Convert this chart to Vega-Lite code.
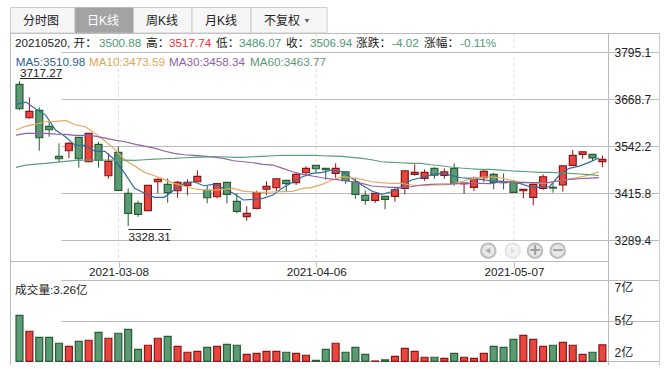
{"$schema":"https://vega.github.io/schema/vega-lite/v6.json","width":649,"height":332,"autosize":{"type":"none","contains":"content"},"padding":{"left":10,"top":33,"right":6,"bottom":4},"background":"white",
"config":{"view":{"stroke":null},"axis":{"disable":true},"legend":{"disable":true},"font":"Liberation Sans, Noto Sans CJK SC","text":{"font":"Liberation Sans, Noto Sans CJK SC","fontSize":11.7,"align":"left","baseline":"middle","color":"#222222"}},
"resolve":{"scale":{"x":"independent","y":"independent","color":"independent","stroke":"independent"},"axis":{"x":"independent","y":"independent"}},
"data":{"values":[
{"d":"2021-02-22","o":3708.9,"h":3717.27,"l":3640,"c":3643.3,"dir":"down","v":5.15,"m5":3655.1,"m10":3586,"m30":3572.6,"m60":3485.8},
{"d":"2021-02-23","o":3619.1,"h":3674,"l":3616.4,"c":3636.3,"dir":"up","v":4.13,"m5":3661.3,"m10":3596.8,"m30":3577.1,"m60":3491.9},
{"d":"2021-02-24","o":3639,"h":3647,"l":3530.4,"c":3565.3,"dir":"down","v":3.74,"m5":3642.5,"m10":3602.1,"m30":3577.1,"m60":3494.6},
{"d":"2021-02-25","o":3596,"h":3608.3,"l":3568,"c":3586.8,"dir":"down","v":3.74,"m5":3626.3,"m10":3608.3,"m30":3577.1,"m60":3496.5},
{"d":"2021-02-26","o":3515.3,"h":3550.3,"l":3499.2,"c":3508.9,"dir":"down","v":3.36,"m5":3586,"m10":3609.4,"m30":3575.2,"m60":3499.2},
{"d":"2021-03-01","o":3530.4,"h":3553.8,"l":3510.7,"c":3550.3,"dir":"up","v":3.16,"m5":3568,"m10":3612.1,"m30":3574.5,"m60":3501.9},
{"d":"2021-03-02","o":3566.4,"h":3567.2,"l":3484.7,"c":3508.9,"dir":"down","v":3.48,"m5":3544.9,"m10":3600.3,"m30":3571.8,"m60":3504.6},
{"d":"2021-03-03","o":3500.8,"h":3578,"l":3499.2,"c":3577.1,"dir":"up","v":3.55,"m5":3544.9,"m10":3594.9,"m30":3571.8,"m60":3505.4},
{"d":"2021-03-04","o":3547.6,"h":3554.6,"l":3484.7,"c":3504.6,"dir":"down","v":4.06,"m5":3528.8,"m10":3577.1,"m30":3569.9,"m60":3505.4},
{"d":"2021-03-05","o":3463.2,"h":3523.4,"l":3455.1,"c":3501.9,"dir":"up","v":3.68,"m5":3528.8,"m10":3556.4,"m30":3564.5,"m60":3505.4},
{"d":"2021-03-08","o":3526.1,"h":3541.1,"l":3423,"c":3423.9,"dir":"down","v":4,"m5":3505.4,"m10":3534.1,"m30":3559.1,"m60":3505.4},
{"d":"2021-03-09","o":3415.8,"h":3429.3,"l":3328.31,"c":3362.1,"dir":"down","v":4.25,"m5":3469.6,"m10":3505.4,"m30":3554.6,"m60":3505.4},
{"d":"2021-03-10","o":3389,"h":3396,"l":3353,"c":3359.4,"dir":"down","v":2.97,"m5":3429.3,"m10":3489.2,"m30":3548.4,"m60":3504.6},
{"d":"2021-03-11","o":3369.1,"h":3437.4,"l":3369.1,"c":3437,"dir":"up","v":3.23,"m5":3415.9,"m10":3472.3,"m30":3543,"m60":3506.2},
{"d":"2021-03-12","o":3447,"h":3456.2,"l":3415.8,"c":3453.5,"dir":"up","v":3.68,"m5":3405.1,"m10":3463.2,"m30":3537.6,"m60":3508.1},
{"d":"2021-03-15","o":3440,"h":3456.2,"l":3390.6,"c":3417.5,"dir":"down","v":3.8,"m5":3405.1,"m10":3453.5,"m30":3529.6,"m60":3508.9},
{"d":"2021-03-16","o":3422.8,"h":3449,"l":3404,"c":3445.4,"dir":"up","v":3.16,"m5":3424.7,"m10":3442.7,"m30":3523.4,"m60":3509.9},
{"d":"2021-03-17","o":3437.4,"h":3453.5,"l":3410.5,"c":3445.4,"dir":"up","v":2.78,"m5":3442.7,"m10":3435.5,"m30":3519.6,"m60":3511.6},
{"d":"2021-03-18","o":3447,"h":3477.7,"l":3447,"c":3461.6,"dir":"up","v":2.84,"m5":3447,"m10":3428.2,"m30":3518,"m60":3512.6},
{"d":"2021-03-19","o":3423.9,"h":3437.4,"l":3389,"c":3404,"dir":"down","v":3.1,"m5":3436.3,"m10":3424.7,"m30":3516.1,"m60":3513.4},
{"d":"2021-03-22","o":3406.7,"h":3442.7,"l":3402.4,"c":3441.7,"dir":"up","v":3.16,"m5":3440.1,"m10":3424.7,"m30":3513.4,"m60":3514.2},
{"d":"2021-03-23","o":3445.4,"h":3445.4,"l":3389,"c":3413.2,"dir":"down","v":3.29,"m5":3429.3,"m10":3426.6,"m30":3509.9,"m60":3514.2},
{"d":"2021-03-24","o":3394.4,"h":3415.8,"l":3362.1,"c":3367.5,"dir":"down","v":3.23,"m5":3415.9,"m10":3429.3,"m30":3503.5,"m60":3512.6},
{"d":"2021-03-25","o":3353,"h":3380.9,"l":3342.2,"c":3362.1,"dir":"up","v":2.65,"m5":3397.9,"m10":3422,"m30":3500.8,"m60":3512.6},
{"d":"2021-03-26","o":3375.5,"h":3422.8,"l":3372.8,"c":3417.5,"dir":"up","v":2.71,"m5":3399.7,"m10":3419.4,"m30":3498.1,"m60":3514.2},
{"d":"2021-03-29","o":3427.4,"h":3448.1,"l":3411.3,"c":3434.7,"dir":"up","v":2.84,"m5":3402.4,"m10":3418.6,"m30":3493.8,"m60":3515.3},
{"d":"2021-03-30","o":3430.9,"h":3455.1,"l":3422,"c":3455.1,"dir":"up","v":2.84,"m5":3411.3,"m10":3419.4,"m30":3491.9,"m60":3516.9},
{"d":"2021-03-31","o":3450.8,"h":3450.8,"l":3421.2,"c":3441.7,"dir":"down","v":2.78,"m5":3430.9,"m10":3420.2,"m30":3483.1,"m60":3518},
{"d":"2021-04-01","o":3444.4,"h":3469.6,"l":3438.2,"c":3466.9,"dir":"up","v":2.71,"m5":3445.4,"m10":3421.2,"m30":3473.9,"m60":3518},
{"d":"2021-04-02","o":3471.2,"h":3488.4,"l":3463.2,"c":3483,"dir":"up","v":2.59,"m5":3460.5,"m10":3429.3,"m30":3466.9,"m60":3518},
{"d":"2021-04-06","o":3491.1,"h":3491.1,"l":3471.2,"c":3482,"dir":"down","v":2.26,"m5":3469.6,"m10":3432,"m30":3462.4,"m60":3518},
{"d":"2021-04-07","o":3483,"h":3483,"l":3452.4,"c":3479.3,"dir":"down","v":2.97,"m5":3472.3,"m10":3440.1,"m30":3457.8,"m60":3516.9},
{"d":"2021-04-08","o":3469.6,"h":3496.5,"l":3457.8,"c":3483,"dir":"up","v":3.36,"m5":3478.5,"m10":3451.6,"m30":3454.3,"m60":3516.1},
{"d":"2021-04-09","o":3473.9,"h":3473.9,"l":3441.7,"c":3449.7,"dir":"down","v":2.78,"m5":3473.9,"m10":3460.5,"m30":3451.6,"m60":3515.3},
{"d":"2021-04-12","o":3446.2,"h":3457.8,"l":3401.3,"c":3413.2,"dir":"down","v":3.1,"m5":3456.2,"m10":3457.8,"m30":3447,"m60":3512.6},
{"d":"2021-04-13","o":3410.5,"h":3423.9,"l":3385.2,"c":3397,"dir":"down","v":2.65,"m5":3438.2,"m10":3453.5,"m30":3442.7,"m60":3509.9},
{"d":"2021-04-14","o":3397,"h":3415.8,"l":3389.8,"c":3415.8,"dir":"up","v":2.22,"m5":3422,"m10":3447,"m30":3435.5,"m60":3506.2},
{"d":"2021-04-15","o":3407.8,"h":3409.4,"l":3372.8,"c":3399.7,"dir":"down","v":2.29,"m5":3413.2,"m10":3444.4,"m30":3433.6,"m60":3500.8},
{"d":"2021-04-16","o":3407.8,"h":3432.8,"l":3393.3,"c":3425.5,"dir":"up","v":2.52,"m5":3420.2,"m10":3442.7,"m30":3432,"m60":3499.2},
{"d":"2021-04-19","o":3429.3,"h":3476.6,"l":3413.2,"c":3476.6,"dir":"up","v":3.03,"m5":3433.6,"m10":3442.7,"m30":3432,"m60":3498.1},
{"d":"2021-04-20","o":3466.9,"h":3493.8,"l":3463.2,"c":3472.3,"dir":"up","v":2.84,"m5":3451.6,"m10":3438.2,"m30":3433.6,"m60":3496.5},
{"d":"2021-04-21","o":3456.2,"h":3480.4,"l":3449.7,"c":3472.3,"dir":"up","v":2.46,"m5":3457.8,"m10":3436.3,"m30":3438.2,"m60":3496.5},
{"d":"2021-04-22","o":3483,"h":3485.8,"l":3455.1,"c":3465,"dir":"down","v":2.46,"m5":3465.1,"m10":3438.2,"m30":3440.1,"m60":3492.7},
{"d":"2021-04-23","o":3464.2,"h":3483,"l":3455.1,"c":3473.9,"dir":"up","v":2.39,"m5":3469.6,"m10":3438.2,"m30":3440.9,"m60":3490.1},
{"d":"2021-04-26","o":3483,"h":3496.5,"l":3436.3,"c":3442.7,"dir":"down","v":2.71,"m5":3464.2,"m10":3440.1,"m30":3440.9,"m60":3486.6},
{"d":"2021-04-27","o":3441.7,"h":3443.5,"l":3414.8,"c":3443.5,"dir":"up","v":2.46,"m5":3457.8,"m10":3447,"m30":3441.7,"m60":3483.9},
{"d":"2021-04-28","o":3432,"h":3460.5,"l":3422,"c":3456.2,"dir":"up","v":2.39,"m5":3456.2,"m10":3454.3,"m30":3442.7,"m60":3482},
{"d":"2021-04-29","o":3457.8,"h":3478.5,"l":3447,"c":3475,"dir":"up","v":2.71,"m5":3453.5,"m10":3458.9,"m30":3442.7,"m60":3480.4},
{"d":"2021-04-30","o":3466.9,"h":3471.2,"l":3426.6,"c":3445.4,"dir":"down","v":3.16,"m5":3449.7,"m10":3460.5,"m30":3441.7,"m60":3480.4},
{"d":"2021-05-06","o":3447,"h":3469.6,"l":3426.6,"c":3444.4,"dir":"down","v":3.1,"m5":3448.9,"m10":3457.8,"m30":3446.2,"m60":3478.5},
{"d":"2021-05-07","o":3446.2,"h":3451.6,"l":3418.5,"c":3418.5,"dir":"down","v":3.61,"m5":3446.2,"m10":3451.6,"m30":3445.4,"m60":3476.6},
{"d":"2021-05-10","o":3422.8,"h":3426.6,"l":3402.4,"c":3426.6,"dir":"up","v":3.87,"m5":3442.7,"m10":3447,"m30":3444.4,"m60":3475},
{"d":"2021-05-11","o":3405,"h":3442.7,"l":3383.6,"c":3440,"dir":"up","v":3.61,"m5":3433.6,"m10":3444.4,"m30":3444.4,"m60":3473.9},
{"d":"2021-05-12","o":3429.3,"h":3466.9,"l":3424.7,"c":3460.5,"dir":"up","v":3.16,"m5":3432,"m10":3442.7,"m30":3444.4,"m60":3472.3},
{"d":"2021-05-13","o":3432,"h":3444.4,"l":3417.5,"c":3430.1,"dir":"down","v":3.23,"m5":3433.6,"m10":3444.4,"m30":3445.4,"m60":3472.3},
{"d":"2021-05-14","o":3438.2,"h":3490,"l":3420.2,"c":3490,"dir":"up","v":3.42,"m5":3465.1,"m10":3449.7,"m30":3449.7,"m60":3471.2},
{"d":"2021-05-17","o":3491.1,"h":3532.3,"l":3491.1,"c":3518,"dir":"up","v":3.23,"m5":3483.1,"m10":3454.3,"m30":3453.5,"m60":3469.6},
{"d":"2021-05-18","o":3520.7,"h":3527.7,"l":3508.9,"c":3527.7,"dir":"up","v":2.65,"m5":3489.2,"m10":3458.9,"m30":3455.1,"m60":3467.8},
{"d":"2021-05-19","o":3520.7,"h":3520.7,"l":3502.7,"c":3510.96,"dir":"down","v":2.78,"m5":3499.2,"m10":3465.1,"m30":3457,"m60":3465.9},
{"d":"2021-05-20","o":3500.88,"h":3517.74,"l":3486.07,"c":3506.94,"dir":"up","v":3.26,"m5":3510.98,"m10":3473.59,"m30":3458.34,"m60":3463.77}
]},
"layer":[
{"transform":[{"filter":{"field":"d","oneOf":["2021-03-08","2021-04-06","2021-05-07"]}}],"mark":{"type":"rule","color":"#dddddd","strokeDash":[3,3],"strokeWidth":1},"encoding":{"x":{"field":"d","type":"ordinal","title":null,"scale":{"type":"point","domain":["2021-03-08","2021-04-06","2021-05-07"],"range":[108.5,504],"padding":0},"axis":{"disable":false,"offset":-103,"grid":false,"domain":false,"ticks":true,"tickColor":"#bbbbbb","tickSize":5,"labelAngle":0,"labelPadding":-1,"labelColor":"#222222","labelFontSize":11.7,"labelFont":"Liberation Sans","labelOverlap":false,"title":null}},"y":{"datum":3847,"scale":{"domain":[3231.2,3847],"range":[229,0],"zero":false,"nice":false}},"y2":{"datum":3231.2}}},
{"mark":{"type":"rule","strokeWidth":1},"encoding":{"x":{"field":"d","type":"ordinal","title":null,"scale":{"type":"band","range":[0,598],"paddingInner":0.3,"paddingOuter":0.415,"align":0.737}},"y":{"field":"l","type":"quantitative","title":null,"scale":{"domain":[3231.2,3847],"range":[229,0],"zero":false,"nice":false},"axis":{"disable":false,"values":[3795.1,3668.7,3542.2,3415.8,3289.4],"orient":"right","offset":-51,"format":".1f","grid":true,"gridColor":"#bbbbbb","gridWidth":1,"domain":false,"tickColor":"#bbbbbb","tickSize":3,"labelColor":"#222222","labelFontSize":12,"labelFont":"Liberation Sans","labelPadding":3,"labelOverlap":false,"title":null}},"y2":{"field":"h"},"stroke":{"field":"dir","type":"nominal","scale":{"domain":["up","down"],"range":["#8a1519","#255c32"]}}}},
{"encoding":{"x":{"field":"d","type":"ordinal","title":null,"scale":{"type":"band","range":[0,598],"paddingInner":0.3,"paddingOuter":0.415,"align":0.737}}},
"layer":[
{"mark":{"type":"bar","strokeWidth":1.2},"encoding":{"y":{"field":"o","type":"quantitative","scale":{"domain":[3231.2,3847],"range":[229,0],"zero":false,"nice":false}},"y2":{"field":"c"},"fill":{"field":"dir","type":"nominal","scale":{"domain":["up","down"],"range":["#e8463c","#5b9a72"]}},"stroke":{"field":"dir","type":"nominal","scale":{"domain":["up","down"],"range":["#8a1519","#255c32"]}}}},
{"mark":{"type":"line","color":"#2f6ca3","strokeWidth":1.2},"encoding":{"x":{"field":"d","type":"ordinal","bandPosition":0},"y":{"field":"m5","type":"quantitative"}}},
{"mark":{"type":"line","color":"#e3a95c","strokeWidth":1.2},"encoding":{"x":{"field":"d","type":"ordinal","bandPosition":0},"y":{"field":"m10","type":"quantitative"}}},
{"mark":{"type":"line","color":"#9160a8","strokeWidth":1.2},"encoding":{"x":{"field":"d","type":"ordinal","bandPosition":0},"y":{"field":"m30","type":"quantitative"}}},
{"mark":{"type":"line","color":"#5d9e7c","strokeWidth":1.2},"encoding":{"x":{"field":"d","type":"ordinal","bandPosition":0},"y":{"field":"m60","type":"quantitative"}}}
]},
{"mark":{"type":"bar","strokeWidth":1.2},"encoding":{"x":{"field":"d","type":"ordinal","title":null,"scale":{"type":"band","range":[0,598],"paddingInner":0.3,"paddingOuter":0.415,"align":0.737}},"y":{"field":"v","type":"quantitative","title":null,"scale":{"domain":[2.2,7.4],"range":[328.3,247.3],"zero":false,"nice":false},"axis":{"disable":false,"values":[2.2,4.8,7.4],"orient":"right","offset":-51,"labelExpr":"round(datum.value)+'亿'","grid":true,"gridColor":"#bbbbbb","gridWidth":1,"domain":false,"tickColor":"#bbbbbb","tickSize":3,"labelColor":"#222222","labelFontSize":12,"labelFont":"Liberation Sans, Noto Sans CJK SC","labelPadding":3,"labelFlush":true,"labelFlushOffset":-2,"labelOverlap":false,"title":null}},"y2":{"datum":2.2},"fill":{"field":"dir","type":"nominal","scale":{"domain":["up","down"],"range":["#e8463c","#5b9a72"]}},"stroke":{"field":"dir","type":"nominal","scale":{"domain":["up","down"],"range":["#8a1519","#255c32"]}}}},
{"data":{"values":[{}]},"layer":[
{"mark":{"type":"rule","color":"#bbbbbb"},"encoding":{"x":{"datum":0.5,"scale":{"domain":[0,649],"zero":false,"nice":false}},"x2":{"datum":649.5},"y":{"datum":0.5,"scale":{"domain":[332,0],"zero":false,"nice":false}}}},
{"mark":{"type":"rule","color":"#bbbbbb"},"encoding":{"x":{"datum":0.5},"x2":{"datum":598.5},"y":{"datum":228.5}}},
{"mark":{"type":"rule","color":"#bbbbbb"},"encoding":{"x":{"datum":0.5},"y":{"datum":0},"y2":{"datum":332}}},
{"mark":{"type":"rule","color":"#bbbbbb"},"encoding":{"x":{"datum":598.5},"y":{"datum":0},"y2":{"datum":332}}},
{"mark":{"type":"rule","color":"#cccccc"},"encoding":{"x":{"datum":649.5},"y":{"datum":0},"y2":{"datum":332}}},
{"mark":{"type":"rect","fill":"#f6f6f6","stroke":"#cccccc"},"encoding":{"x":{"datum":0.5},"x2":{"datum":65},"y":{"datum":-25.5},"y2":{"datum":0}}},
{"mark":{"type":"rect","fill":"#a3a3a3","stroke":"#bbbbbb"},"encoding":{"x":{"datum":65},"x2":{"datum":123.5},"y":{"datum":-25.5},"y2":{"datum":0}}},
{"mark":{"type":"rect","fill":"#f6f6f6","stroke":"#cccccc"},"encoding":{"x":{"datum":123.5},"x2":{"datum":182},"y":{"datum":-25.5},"y2":{"datum":0}}},
{"mark":{"type":"rect","fill":"#f6f6f6","stroke":"#cccccc"},"encoding":{"x":{"datum":182},"x2":{"datum":241},"y":{"datum":-25.5},"y2":{"datum":0}}},
{"mark":{"type":"rect","fill":"#f6f6f6","stroke":"#cccccc"},"encoding":{"x":{"datum":241},"x2":{"datum":317},"y":{"datum":-25.5},"y2":{"datum":0}}},
{"mark":{"type":"text","text":"分时图","align":"center","fontSize":12},"encoding":{"x":{"datum":31},"y":{"datum":-12.5}}},
{"mark":{"type":"text","text":"日K线","align":"center","fontSize":12,"color":"#ffffff"},"encoding":{"x":{"datum":93},"y":{"datum":-12.5}}},
{"mark":{"type":"text","text":"周K线","align":"center","fontSize":12},"encoding":{"x":{"datum":152},"y":{"datum":-12.5}}},
{"mark":{"type":"text","text":"月K线","align":"center","fontSize":12},"encoding":{"x":{"datum":211},"y":{"datum":-12.5}}},
{"mark":{"type":"text","text":"不复权","align":"center","fontSize":12},"encoding":{"x":{"datum":272},"y":{"datum":-12.5}}},
{"mark":{"type":"point","shape":"triangle-down","filled":true,"size":22,"color":"#666666","opacity":1},"encoding":{"x":{"datum":297},"y":{"datum":-12}}},
{"mark":{"type":"text","text":"20210520, 开："},"encoding":{"x":{"datum":5},"y":{"datum":10}}},
{"mark":{"type":"text","text":"3500.88","color":"#4f9a72"},"encoding":{"x":{"datum":89},"y":{"datum":10}}},
{"mark":{"type":"text","text":"高："},"encoding":{"x":{"datum":136},"y":{"datum":10}}},
{"mark":{"type":"text","text":"3517.74","color":"#e83232"},"encoding":{"x":{"datum":159},"y":{"datum":10}}},
{"mark":{"type":"text","text":"低："},"encoding":{"x":{"datum":206},"y":{"datum":10}}},
{"mark":{"type":"text","text":"3486.07","color":"#4f9a72"},"encoding":{"x":{"datum":229},"y":{"datum":10}}},
{"mark":{"type":"text","text":"收："},"encoding":{"x":{"datum":276},"y":{"datum":10}}},
{"mark":{"type":"text","text":"3506.94","color":"#4f9a72"},"encoding":{"x":{"datum":300},"y":{"datum":10}}},
{"mark":{"type":"text","text":"涨跌："},"encoding":{"x":{"datum":346},"y":{"datum":10}}},
{"mark":{"type":"text","text":"-4.02","color":"#4f9a72"},"encoding":{"x":{"datum":382},"y":{"datum":10}}},
{"mark":{"type":"text","text":"涨幅："},"encoding":{"x":{"datum":414},"y":{"datum":10}}},
{"mark":{"type":"text","text":"-0.11%","color":"#4f9a72"},"encoding":{"x":{"datum":450},"y":{"datum":10}}},
{"mark":{"type":"text","text":"MA5:3510.98","color":"#2a5f94"},"encoding":{"x":{"datum":5.7},"y":{"datum":28.5}}},
{"mark":{"type":"text","text":"MA10:3473.59","color":"#e0a552"},"encoding":{"x":{"datum":79},"y":{"datum":28.5}}},
{"mark":{"type":"text","text":"MA30:3458.34","color":"#8e5fa8"},"encoding":{"x":{"datum":159},"y":{"datum":28.5}}},
{"mark":{"type":"text","text":"MA60:3463.77","color":"#5b9a75"},"encoding":{"x":{"datum":240},"y":{"datum":28.5}}},
{"mark":{"type":"text","text":"3717.27"},"encoding":{"x":{"datum":10},"y":{"datum":40}}},
{"mark":{"type":"rule","color":"#222222"},"encoding":{"x":{"datum":10},"x2":{"datum":52},"y":{"datum":45.5}}},
{"mark":{"type":"text","text":"3328.31"},"encoding":{"x":{"datum":118.5},"y":{"datum":203.7}}},
{"mark":{"type":"rule","color":"#222222"},"encoding":{"x":{"datum":118.5},"x2":{"datum":161},"y":{"datum":196.5}}},
{"mark":{"type":"text","text":"成交量:3.26亿"},"encoding":{"x":{"datum":5},"y":{"datum":257}}},
{"mark":{"type":"point","shape":"circle","filled":true,"size":210,"fill":"#e6e6e6","stroke":"#bdbdbd","strokeWidth":2,"opacity":1},"encoding":{"x":{"datum":478.3},"y":{"datum":217.7}}},
{"mark":{"type":"point","shape":"circle","filled":true,"size":210,"fill":"#f3f3f3","stroke":"#e4e4e4","strokeWidth":2,"opacity":1},"encoding":{"x":{"datum":502.7},"y":{"datum":217.7}}},
{"mark":{"type":"point","shape":"circle","filled":true,"size":210,"fill":"#e6e6e6","stroke":"#bdbdbd","strokeWidth":2,"opacity":1},"encoding":{"x":{"datum":525},"y":{"datum":217.7}}},
{"mark":{"type":"point","shape":"circle","filled":true,"size":210,"fill":"#e6e6e6","stroke":"#bdbdbd","strokeWidth":2,"opacity":1},"encoding":{"x":{"datum":547.7},"y":{"datum":217.7}}},
{"mark":{"type":"point","shape":"triangle-left","filled":true,"size":30,"color":"#a8a8a8","opacity":1},"encoding":{"x":{"datum":477.8},"y":{"datum":217.7}}},
{"mark":{"type":"point","shape":"triangle-right","filled":true,"size":30,"color":"#dddddd","opacity":1},"encoding":{"x":{"datum":503.2},"y":{"datum":217.7}}},
{"mark":{"type":"text","text":"+","align":"center","font":"DejaVu Sans","fontSize":15,"fontWeight":"bold","color":"#999999"},"encoding":{"x":{"datum":525},"y":{"datum":217.2}}},
{"mark":{"type":"text","text":"−","align":"center","font":"DejaVu Sans","fontSize":15,"fontWeight":"bold","color":"#999999"},"encoding":{"x":{"datum":547.7},"y":{"datum":217.2}}}
]}
]}
